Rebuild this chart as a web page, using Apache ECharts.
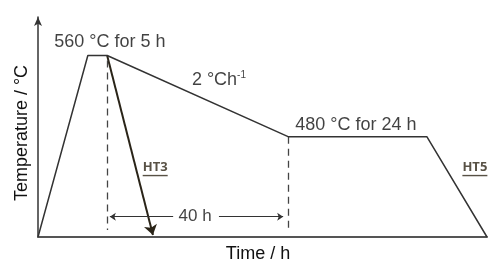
<!DOCTYPE html>
<html>
<head>
    <meta charset="utf-8">
    <title>Heat treatment</title>
    <script src="https://cdn.jsdelivr.net/npm/echarts@6/dist/echarts.min.js"></script>
    <style>
        html, body { margin: 0; padding: 0; background: #fff; }
        #chart1 { width: 488px; height: 260px; }
    </style>
</head>
<body>
<div id="chart1"></div>
<script type="text/javascript">
    // time (h) and temperature (°C) of the HT5 profile
    var profileTime = [0, 11.1, 15.4, 55.7, 86.6, 100];
    var profileTemp = [381, 560, 560, 480, 480, 381];

    // HT3: quench from the end of the 560 °C hold
    var ht3Time = [15.4, 25.6];
    var ht3Temp = [560, 383];

    // dashed markers for the 40 h cooling stage
    var dashTime = [15.4, 55.7];
    var dashTop = [555, 480];
    var dashBottom = [388, 389];

    // 40 h dimension arrow, two halves around the label
    var dimTemp = 401;
    var dimLeft = [30.1, 16.0];
    var dimRight = [40.3, 54.6];

    var labelNames = ['560 °C for 5 h', 'rate', '480 °C for 24 h', '40 h', 'HT3', 'HT5'];
    var labelTime = [16.0, 40.3, 70.8, 35.0, 26.1, 97.3];
    var labelTemp = [573.6, 536.1, 491.6, 401, 449, 449];

    function xy(t, T) { return [t, T]; }

    var profileData = profileTime.map(function (t, i) { return xy(t, profileTemp[i]); });

    var dashData = dashTime.map(function (t, i) {
        return { coords: [xy(t, dashTop[i]), xy(t, dashBottom[i])] };
    });

    var font = '"Liberation Sans", Arial, sans-serif';
    var ink = '#333';
    var brown = '#2e2616';

    var labelData = labelNames.map(function (n, i) {
        var d = { value: xy(labelTime[i], labelTemp[i]), name: n };
        if (n === 'rate') {
            d.label = { formatter: '2 °Ch{sup|-1}' };
        } else if (n === 'HT3' || n === 'HT5') {
            // underline drawn as a thin rich-text block under the name
            d.label = { formatter: '{ht|' + n + '}\n{ul|}' };
        } else if (n === '40 h') {
            d.label = { formatter: n, fontSize: 17 };
        }
        return d;
    });

    var myChart1 = echarts.init(document.getElementById('chart1'));
    myChart1.setOption({
        animation: false,
        grid: { left: 38, right: 1, top: 17, bottom: 23, outerBoundsMode: 'none' },
        xAxis: {
            type: 'value',
            min: 0,
            max: 100,
            name: 'Time / h',
            nameLocation: 'middle',
            nameGap: 8,
            nameTextStyle: { fontFamily: font, fontSize: 18, color: '#111', padding: [0, 9, 0, 0] },
            axisLine: { lineStyle: { color: '#555', width: 2 } },
            axisTick: { show: false },
            axisLabel: { show: false },
            splitLine: { show: false }
        },
        yAxis: {
            type: 'value',
            min: 381,
            max: 598,
            name: 'Temperature / °C',
            nameLocation: 'middle',
            nameGap: 7,
            nameTextStyle: { fontFamily: font, fontSize: 18, color: '#111', padding: [0, 12, 0, 0] },
            axisLine: {
                show: true,
                symbol: ['none', 'arrow'],
                symbolSize: [6, 9],
                lineStyle: { color: ink, width: 1.5 }
            },
            axisTick: { show: false },
            axisLabel: { show: false },
            splitLine: { show: false }
        },
        series: [{
            name: 'HT5',
            type: 'line',
            data: profileData,
            symbol: 'none',
            lineStyle: { color: ink, width: 1.5 }
        }, {
            name: 'HT3',
            type: 'lines',
            coordinateSystem: 'cartesian2d',
            symbol: ['none', 'arrow'],
            symbolSize: [7, 10],
            lineStyle: { color: '#2a2418', width: 2, opacity: 1 },
            data: [{ coords: [xy(ht3Time[0], ht3Temp[0]), xy(ht3Time[1], ht3Temp[1])] }]
        }, {
            name: 'dashes',
            type: 'lines',
            coordinateSystem: 'cartesian2d',
            symbol: 'none',
            lineStyle: { color: '#444', width: 1.3, type: [7, 5], opacity: 1 },
            data: dashData
        }, {
            name: '40 h',
            type: 'lines',
            coordinateSystem: 'cartesian2d',
            symbol: ['none', 'arrow'],
            symbolSize: [5, 6],
            lineStyle: { color: ink, width: 1.2, opacity: 1 },
            data: [
                { coords: [xy(dimLeft[0], dimTemp), xy(dimLeft[1], dimTemp)] },
                { coords: [xy(dimRight[0], dimTemp), xy(dimRight[1], dimTemp)] }
            ]
        }, {
            name: 'labels',
            type: 'scatter',
            symbolSize: 0,
            silent: true,
            data: labelData,
            label: {
                show: true,
                position: 'inside',
                formatter: '{b}',
                fontFamily: font,
                fontSize: 18,
                color: '#111',
                rich: {
                    sup: { fontFamily: font, fontSize: 10, color: '#111', verticalAlign: 'top', padding: [0, 0, 9, 0] },
                    ht: {
                        fontFamily: '"Open Sans", sans-serif',
                        fontWeight: 'bold',
                        fontSize: 13,
                        lineHeight: 15,
                        color: brown
                    },
                    ul: {
                        width: 25,
                        height: 1.4,
                        lineHeight: 2,
                        backgroundColor: brown
                    }
                }
            }
        }]
    });
</script>
</body>
</html>
